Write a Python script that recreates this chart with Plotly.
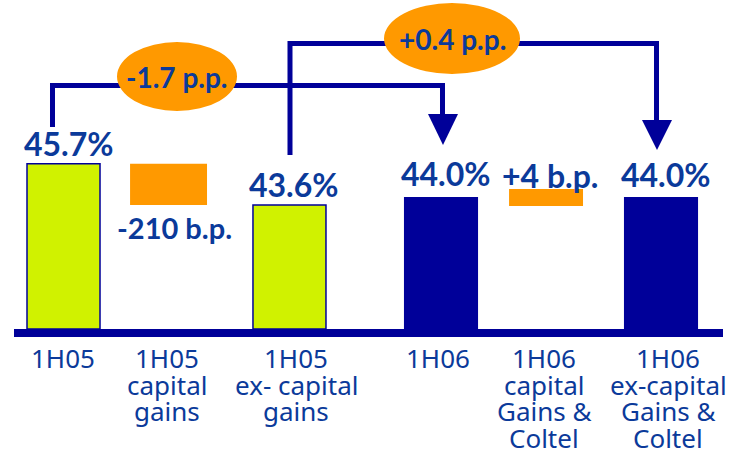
import plotly.graph_objects as go

# ---- data -------------------------------------------------------------
categories = [
    "1H05",
    "1H05<br>capital<br>gains",
    "1H05<br>ex- capital<br>gains",
    "1H06",
    "1H06<br>capital<br>Gains &<br>Coltel",
    "1H06<br>ex-capital<br>Gains &<br>Coltel",
]
ratio_1h05 = 45.7            # %
capital_gains_1h05_bp = -210  # basis points
ratio_1h05_ex = 43.6         # %
ratio_1h06 = 44.0            # %
capital_gains_1h06_bp = 4     # basis points
ratio_1h06_ex = 44.0         # %
change_reported_pp = -1.7
change_ex_pp = 0.4

# ---- layout constants ---------------------------------------------------
W, H = 733, 450
AXIS_FLOOR = 37.28                      # value where the bars start
Y_RANGE = [31.12, 54.04]
X_RANGE = [-0.5314, 5.6025]
slot = [0.0, 0.879, 1.891, 3.159, 4.038, 5.0]

NAVY = "#000099"
TEXT = "#0B3A9A"
LIME = "#D0F200"
ORANGE = "#FF9900"
FONT = "Lato"
LABEL_FONT = "Noto Sans"


def px_x(px):
    return px / W


def px_y(py):
    return 1 - py / H


fig = go.Figure()

# green bars (1H05 reported and ex-capital gains)
lime_vals = [ratio_1h05, ratio_1h05_ex]
fig.add_bar(
    x=[slot[0], slot[2]],
    y=[v - AXIS_FLOOR for v in lime_vals],
    base=AXIS_FLOOR,
    width=0.611,
    marker=dict(color=LIME, line=dict(color=NAVY, width=1.5)),
    hoverinfo="skip",
)

# navy bars (1H06 reported and ex-capital gains & Coltel)
navy_vals = [ratio_1h06, ratio_1h06_ex]
fig.add_bar(
    x=[slot[3], slot[5]],
    y=[v - AXIS_FLOOR for v in navy_vals],
    base=AXIS_FLOOR,
    width=0.62,
    marker=dict(color=NAVY, line=dict(width=0)),
    hoverinfo="skip",
)

# 1H05 capital gains step
d05 = capital_gains_1h05_bp / 100
fig.add_bar(
    x=[slot[1]],
    y=[-d05],
    base=ratio_1h05 + d05,
    width=0.644,
    marker=dict(color=ORANGE, line=dict(width=0)),
    hoverinfo="skip",
)

# 1H06 capital gains & Coltel step (thin, drawn with a thick outline)
d06 = capital_gains_1h06_bp / 100
fig.add_bar(
    x=[slot[4]],
    y=[d06],
    base=ratio_1h06_ex - d06,
    width=0.485,
    marker=dict(color=ORANGE, line=dict(color=ORANGE, width=16)),
    hoverinfo="skip",
)

shapes = []

# baseline
shapes.append(dict(type="rect", xref="paper", yref="paper",
                   x0=px_x(14), x1=px_x(723), y0=px_y(337), y1=px_y(329),
                   fillcolor=NAVY, line=dict(width=0)))


def path(points, close=False):
    s = "M " + " L ".join(f"{px_x(x):.5f},{px_y(y):.5f}" for x, y in points)
    return s + (" Z" if close else "")


# connector 1H05 -> 1H06
shapes.append(dict(type="path", xref="paper", yref="paper",
                   path=path([(52.5, 127), (52.5, 85.5), (442.5, 85.5), (442.5, 116)]),
                   line=dict(color=NAVY, width=5)))
shapes.append(dict(type="path", xref="paper", yref="paper",
                   path=path([(428, 114), (458, 114), (443, 145)], close=True),
                   fillcolor=NAVY, line=dict(color=NAVY, width=0)))

# connector 1H05 ex-capital gains -> 1H06 ex-capital gains & Coltel
shapes.append(dict(type="path", xref="paper", yref="paper",
                   path=path([(290, 155), (290, 43.5), (656.5, 43.5), (656.5, 122)]),
                   line=dict(color=NAVY, width=5)))
shapes.append(dict(type="path", xref="paper", yref="paper",
                   path=path([(642, 120), (672, 120), (657, 150)], close=True),
                   fillcolor=NAVY, line=dict(color=NAVY, width=0)))

# change bubbles
bubbles = [
    ((117, 42, 237, 111), f"{change_reported_pp:+.1f} p.p.".replace("+-", "-")),
    ((384, 3, 520, 74), f"{change_ex_pp:+.1f} p.p."),
]
annotations = []
for (x0, y0, x1, y1), txt in bubbles:
    shapes.append(dict(type="circle", xref="paper", yref="paper",
                       x0=px_x(x0), x1=px_x(x1), y0=px_y(y1), y1=px_y(y0),
                       fillcolor=ORANGE, line=dict(width=0)))
    annotations.append(dict(
        xref="paper", yref="paper", x=px_x((x0 + x1) / 2), y=px_y((y0 + y1) / 2),
        text=txt, showarrow=False, xanchor="center", yanchor="middle",
        font=dict(family=FONT, size=28, color=TEXT, weight=700),
    ))

# value labels over the bars
value_labels = [
    (slot[0], ratio_1h05, f"{ratio_1h05:.1f}%", 20),
    (slot[2], ratio_1h05_ex, f"{ratio_1h05_ex:.1f}%", 20),
    (slot[3], ratio_1h06, f"{ratio_1h06:.1f}%", 24),
    (slot[5], ratio_1h06_ex, f"{ratio_1h06_ex:.1f}%", 23),
]
for x, v, txt, dy in value_labels:
    annotations.append(dict(
        x=x, y=v, xref="x", yref="y", text=txt, showarrow=False,
        xanchor="center", yanchor="middle", xshift=5, yshift=dy,
        font=dict(family=FONT, size=32, color=TEXT, weight=700),
    ))

# step labels
annotations.append(dict(
    x=slot[1], y=ratio_1h05 + d05, xref="x", yref="y",
    text=f"{capital_gains_1h05_bp} b.p.", showarrow=False,
    xanchor="center", yanchor="middle", xshift=6, yshift=-23,
    font=dict(family=FONT, size=29, color=TEXT, weight=700),
))
annotations.append(dict(
    x=slot[4], y=ratio_1h06, xref="x", yref="y",
    text=f"+{capital_gains_1h06_bp} b.p.", showarrow=False,
    xanchor="center", yanchor="middle", xshift=4, yshift=22,
    font=dict(family=FONT, size=32, color=TEXT, weight=700),
))

# category labels, one line at a time for tight line spacing
LINE_STEP = 26.5
label_shift = [-1, -2, 7, -3, -2, 7]
for x, label, dx in zip(slot, categories, label_shift):
    for i, line in enumerate(label.split("<br>")):
        annotations.append(dict(
            x=x, y=px_y(358 + LINE_STEP * i), xref="x", yref="paper",
            text=line, showarrow=False, xanchor="center", yanchor="middle",
            xshift=dx,
            font=dict(family=LABEL_FONT, size=26, color=TEXT),
        ))

fig.update_layout(
    width=W, height=H,
    margin=dict(l=0, r=0, t=0, b=0),
    paper_bgcolor="white", plot_bgcolor="white",
    showlegend=False,
    barmode="overlay",
    xaxis=dict(range=X_RANGE, visible=False, fixedrange=True),
    yaxis=dict(range=Y_RANGE, visible=False, fixedrange=True),
    shapes=shapes,
    annotations=annotations,
)

fig.write_html("out.html")
